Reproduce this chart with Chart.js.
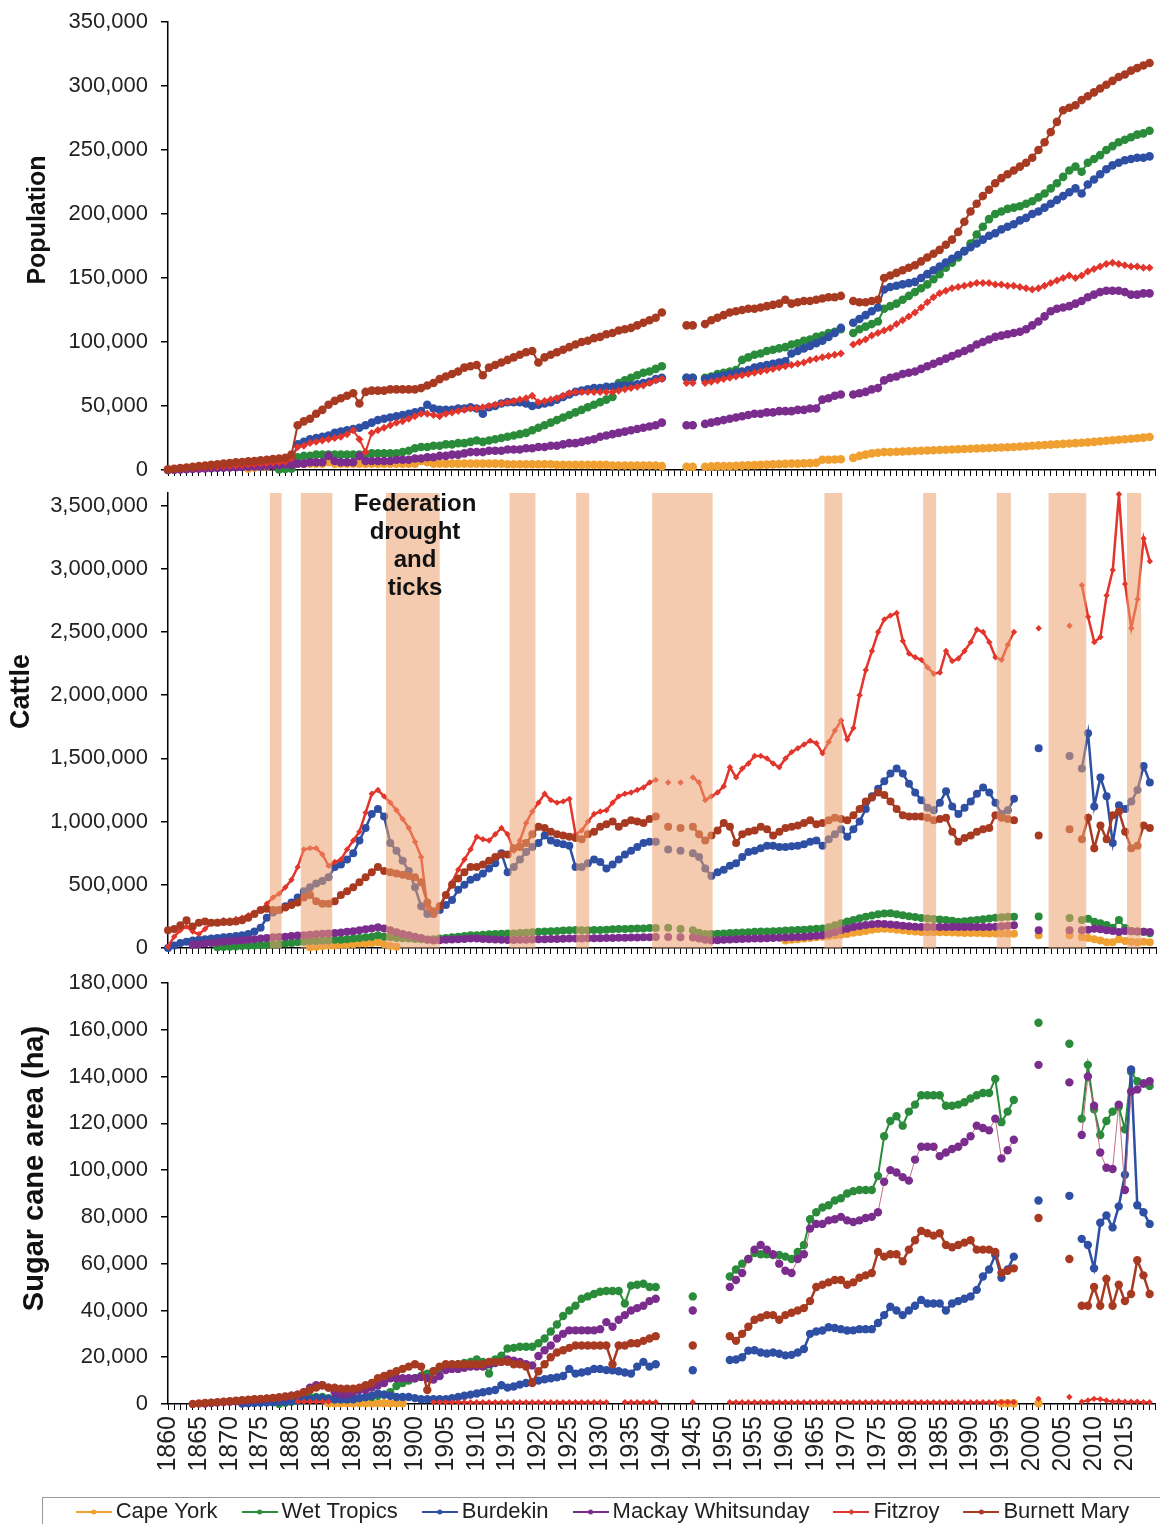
<!DOCTYPE html>
<html>
<head>
<meta charset="utf-8">
<script src="https://cdn.jsdelivr.net/npm/chart.js@4.4.1/dist/chart.umd.min.js"></script>
<style>
html, body { margin: 0; padding: 0; background: #fff; overflow: hidden; }
body { width: 1160px; height: 1524px; position: relative; }
canvas { position: absolute; left: 0; }
</style>
</head>
<body>
<canvas id="pop" width="1160" height="485" style="top:0px"></canvas>
<canvas id="cattle" width="1160" height="483" style="top:480px"></canvas>
<canvas id="sugar" width="1160" height="575" style="top:958px"></canvas>
<script>
// one value per year, 1860 to 2019 (thousands)
const years = Array.from({length: 160}, (_, i) => 1860 + i);
const regions = ['Cape York', 'Wet Tropics', 'Burdekin', 'Mackay Whitsunday', 'Fitzroy', 'Burnett Mary'];
const colours = ['#f0a030', '#2a8c3a', '#2e4fa3', '#7b2d8e', '#e2352b', '#a83a22'];

// drought periods shaded in the cattle panel (start / end year)
const droughtStart = [1876.5, 1881.5, 1895.3, 1915.3, 1926.1, 1938.4, 1966.3, 1982.3, 1994.2, 2002.6, 2015.3];
const droughtEnd   = [1878.4, 1886.6, 1904.0, 1919.5, 1928.2, 1948.2, 1969.2, 1984.4, 1996.5, 2008.7, 2017.6];
const noteYear = 1900;
const noteLines = ['Federation', 'drought', 'and', 'ticks'];

// ---- Population (thousands) ----
const popCapeYork = [
  null,null,null,null,null,null,null,null,null,null,
  null,null,null,1,2,3,3,4,4,4,
  5,5,5,5,5,5,6,5,5,5,
  5,5,5,5,5,5,5,5,5,5,
  5,7,6,5,5,5,5,5,5,5,
  5,5,5,5,5,4.5,4.5,4.5,4.5,4.5,
  4.5,4.5,4.5,4,4,4,4,4,4,4,
  4,4,3.5,3.5,3.5,3.5,3.5,3.5,3.5,3.5,
  3,null,null,null,2.5,2.5,null,2.5,2.8,3,
  3,3,3.2,3.4,3.6,3.8,4,4.2,4.4,4.6,
  4.8,5,5,5.2,5.4,5.6,8,8,8.2,8.4,
  null,9.5,11,12,13,13.5,14,14,14.2,14.4,
  14.6,14.8,15,15.2,15.4,15.6,15.8,16,16.2,16.4,
  16.6,16.8,17,17.2,17.4,17.6,17.8,18,18.3,18.6,
  18.9,19.2,19.5,19.8,20.1,20.4,20.7,21,21.3,21.6,
  22,22.4,22.8,23.2,23.6,24,24.4,24.8,25.3,25.8
];
const popWetTropics = [
  null,null,null,null,null,null,null,null,null,null,
  null,null,null,null,null,null,null,null,0.5,0.8,
  1,10,11,11,12,12,12,12,12,12,
  12,12,12,13,13,13,13,13,14,15,
  17,18,18,19,19,20,20,21,21,22,
  23,22,23,24,25,26,27,28,29,31,
  33,35,37,39,41,43,45,47,49,51,
  53,55,57,68,70,72,74,76,77,79,
  81,null,null,null,72,72,null,72,73,75,
  76,77,78,86,88,90,91,93,94,95,
  96,98,99,101,102,104,105,107,108,110,
  null,107,110,112,114,116,126,128,130,133,
  136,139,142,145,149,153,158,162,166,171,
  177,184,190,196,200,202,204,205,206,208,
  210,213,216,220,224,229,234,237,233,240,
  243,246,250,253,256,258,260,262,263,265
];
const popBurdekin = [
  0,0.3,0.6,1,1.3,1.6,2,2.3,2.6,3,
  3.3,3.6,4,4.3,4.6,5,5.3,5.6,6,6.3,
  8,20,22,24,25,26,27,29,30,31,
  32,33,35,37,39,40,41,42,43,44,
  45,46,51,48,47,47,47,48,48,49,
  48,44,49,50,52,53,53,53,52,50,
  51,52,53,55,57,59,61,62,63,64,
  64,65,65,66,66,66,67,68,69,71,
  72,null,null,null,72,72,null,71,72,73,
  74,75,76,77,78,80,81,82,83,84,
  85,91,93,95,97,99,101,104,107,111,
  null,115,118,121,124,127,141,143,144,145,
  146,147,150,153,156,159,162,165,168,171,
  174,177,180,183,185,188,190,192,195,197,
  200,202,205,208,211,214,217,220,216,223,
  227,231,235,238,240,242,243,244,244,245
];
const popMackay = [
  0,0.2,0.4,0.6,0.8,1,1.2,1.4,1.6,1.8,
  2,2.2,2.4,2.6,2.8,3,3.3,3.6,4,4.5,
  4,5,5,6,6,6,11,7,6,6,
  6,11,7,7,7,7,7,8,8,8,
  9,9,10,10,11,11,12,12,13,14,
  14,14,15,15,15,16,16,16,17,17,
  18,18,19,19,20,21,21,22,23,24,
  26,27,28,29,30,31,32,33,34,35,
  37,null,null,null,35,35,null,36,37,38,
  39,40,41,42,43,44,44,45,45,46,
  46,46,47,47,48,48,55,56,58,59,
  null,59,60,61,63,64,70,72,73,75,
  76,77,79,81,83,85,87,89,91,93,
  95,98,100,102,104,105,106,107,108,110,
  113,116,120,124,126,127,128,130,132,135,
  137,139,140,140,140,139,137,137,138,138
];
const popFitzroy = [
  0.5,0.8,1,1.2,1.5,1.8,2,2.3,2.6,3,
  3.3,3.6,4,4.3,4.6,5,5.3,5.6,6,6.5,
  9,18,19,21,22,23,24,25,26,28,
  31,24,14,29,31,33,35,37,38,40,
  42,44,44,43,42,44,45,46,47,48,
  48,49,50,51,52,53,54,55,56,58,
  53,54,55,56,58,60,61,61,61,61,
  61,61,61,62,63,64,65,66,68,70,
  71,null,null,null,68,68,null,68,69,70,
  71,72,73,74,75,76,77,78,79,80,
  81,82,83,84,86,87,88,89,90,91,
  null,98,100,102,105,107,109,111,114,117,
  120,123,127,131,135,138,140,142,143,144,
  145,146,146,146,145,145,144,144,143,142,
  141,142,144,146,148,150,152,150,152,155,
  157,159,161,162,161,160,159,159,158,158
];
const popBurnettMary = [
  0.5,1,1.5,2,2.5,3,3.5,4,4.5,5,
  5.5,6,6.3,6.8,7,7.5,8,8.5,9,9.5,
  12,35,38,40,44,47,51,54,56,58,
  60,52,61,62,62,62,63,63,63,63,
  63,64,66,68,71,73,75,77,80,81,
  82,74,80,82,84,86,88,90,92,93,
  84,88,90,92,94,96,98,100,101,103,
  104,106,107,109,110,111,113,115,117,119,
  123,null,null,null,113,113,null,114,117,119,
  121,123,124,125,126,126,127,128,129,130,
  133,130,131,132,132,133,134,135,135,136,
  null,132,131,131,132,133,150,152,154,156,
  158,160,163,166,169,172,176,180,186,194,
  202,208,214,219,224,228,231,234,237,240,
  244,250,256,264,272,281,283,285,289,292,
  295,298,301,304,307,309,312,314,316,318
];

// ---- Cattle (thousands) ----
const catCapeYork = [
  null,null,null,null,null,null,null,null,null,null,
  null,null,null,null,null,null,null,null,null,null,
  null,null,null,5,10,15,20,20,25,25,
  30,35,35,40,45,30,15,10,null,null,
  null,null,null,null,null,null,null,null,null,null,
  null,null,null,null,null,null,null,null,null,null,
  null,null,null,null,null,null,null,null,null,null,
  null,null,null,null,null,null,null,null,null,null,
  null,null,null,null,null,null,null,null,null,null,
  null,null,null,null,null,null,null,null,null,null,
  60,65,70,75,80,85,90,95,100,105,
  110,120,127,135,145,150,153,150,145,140,
  135,130,127,125,125,125,125,122,120,118,
  118,118,116,115,115,114,113,113,null,null,
  null,100,null,null,null,null,100,null,85,80,
  70,60,45,45,70,55,50,45,50,45
];
const catWetTropics = [
  null,null,null,null,null,null,null,null,5,8,
  10,12,15,18,20,22,25,28,30,35,
  40,45,50,55,55,60,60,65,65,70,
  75,80,85,90,100,90,85,80,78,75,
  72,70,68,70,75,80,85,90,95,100,
  100,105,108,110,112,115,115,118,120,125,
  128,130,132,135,138,140,142,140,140,142,
  142,145,148,150,150,152,155,155,158,158,
  null,160,null,150,null,140,120,110,110,112,
  115,118,120,122,125,128,130,130,132,135,
  138,140,142,145,148,152,155,165,180,195,
  210,222,235,248,258,268,273,275,268,260,
  252,245,238,234,230,226,221,215,208,212,
  218,222,228,234,240,244,247,247,null,null,
  null,250,null,null,null,null,237,null,221,232,
  208,195,181,160,222,158,135,130,128,116
];
const catBurdekin = [
  0,20,40,50,60,65,70,75,80,85,
  90,95,100,110,130,160,240,280,300,330,
  360,400,450,480,510,530,560,640,660,700,
  750,850,950,1060,1100,1040,830,770,690,610,
  480,330,270,270,300,340,380,460,500,540,
  560,590,630,670,750,600,640,700,760,800,
  830,890,850,830,820,810,640,640,670,700,
  680,630,660,700,740,770,800,830,840,840,
  null,780,null,770,null,750,720,630,570,600,
  620,650,670,720,760,770,790,810,810,800,
  800,805,810,820,840,850,810,860,900,940,
  880,940,1000,1100,1200,1260,1320,1380,1420,1380,
  1300,1230,1170,1110,1090,1150,1240,1120,1060,1110,
  1160,1220,1270,1230,1150,1060,1090,1180,null,null,
  null,1580,null,null,null,null,1520,null,1420,1700,
  1120,1350,1200,830,1130,1100,1160,1250,1440,1310
];
const catMackay = [
  null,null,null,null,25,30,35,40,45,50,
  55,58,62,66,70,75,80,85,88,90,
  95,98,100,105,108,112,115,118,122,128,
  132,140,148,155,165,155,140,125,110,100,
  90,80,65,60,62,65,68,70,72,75,
  75,72,70,68,66,63,63,65,66,68,
  70,70,72,72,74,75,75,76,77,78,
  78,80,80,82,82,84,84,85,86,87,
  null,88,null,86,null,84,75,65,60,62,
  65,68,70,72,74,75,76,78,80,82,
  84,86,88,90,92,96,100,110,125,140,
  152,166,175,182,188,192,190,186,182,176,
  172,168,166,166,166,166,166,166,166,166,
  166,166,166,166,168,172,176,180,null,null,
  null,140,null,null,null,null,140,null,140,145,
  153,148,140,135,127,135,133,130,128,127
];
const catFitzroy = [
  10,90,140,170,130,110,150,200,210,220,
  220,230,240,260,280,300,350,400,430,480,
  540,640,780,790,790,740,650,680,700,780,
  850,920,1070,1220,1250,1200,1150,1090,1020,950,
  840,720,320,260,330,420,520,620,700,780,
  880,860,850,900,950,900,770,850,990,1080,
  1150,1220,1170,1150,1160,1180,900,930,1000,1060,
  1080,1090,1150,1200,1220,1230,1250,1270,1310,1330,
  null,1310,null,1310,null,1350,1310,1170,1200,1230,
  1280,1430,1350,1420,1460,1520,1520,1500,1460,1430,
  1500,1550,1580,1610,1640,1620,1540,1630,1720,1800,
  1650,1740,2000,2200,2350,2500,2600,2630,2650,2430,
  2330,2300,2280,2220,2170,2180,2350,2270,2290,2350,
  2420,2520,2500,2420,2300,2280,2400,2500,null,null,
  null,2530,null,null,null,null,2550,null,2870,2620,
  2420,2460,2790,2990,3590,2880,2530,2760,3240,3060
];
const catBurnettMary = [
  140,150,180,220,170,200,210,200,200,205,
  205,210,220,240,270,300,310,300,300,320,
  340,360,400,420,370,350,350,370,420,450,
  480,520,560,600,640,610,600,590,580,570,
  560,520,360,290,330,420,500,550,600,640,
  640,660,690,720,740,740,790,800,830,900,
  960,950,920,900,890,880,870,860,900,920,
  960,980,1000,960,990,1010,1000,990,1020,1040,
  null,960,null,950,null,960,900,850,890,930,
  990,960,830,900,920,930,960,940,890,920,
  950,960,970,990,1010,980,990,1010,1030,1020,
  1010,1050,1100,1160,1190,1230,1210,1160,1100,1050,
  1040,1040,1040,1030,1010,1020,1030,920,840,870,
  890,920,940,950,1050,1030,1020,1010,null,null,
  null,890,null,null,null,null,940,null,860,1030,
  790,970,860,1050,1080,920,790,810,970,950
];

// ---- Sugar cane area (thousand ha) ----
const sugCapeYork = [
  null,null,null,null,null,null,null,null,null,null,
  null,null,null,null,null,null,null,null,null,null,
  null,null,null,null,null,null,0.3,0.3,0.3,0.3,
  0.3,0.3,0.3,0.3,0.3,0.3,0.3,0.3,0.3,null,
  null,null,null,null,null,null,null,null,null,null,
  null,null,null,null,null,null,null,null,null,null,
  null,null,null,null,null,null,null,null,null,null,
  null,null,null,null,null,null,null,null,null,null,
  null,null,null,null,null,null,null,null,null,null,
  null,null,null,null,null,null,null,null,null,null,
  null,null,null,null,null,null,null,null,null,null,
  null,null,null,null,null,null,null,null,null,null,
  null,null,null,null,null,null,null,null,null,null,
  null,null,null,null,null,0.3,0.3,0.3,null,null,
  null,0.3,null,null,null,null,null,null,null,null,
  null,null,null,null,null,null,null,null,null,null
];
const sugWetTropics = [
  null,null,null,null,null,null,null,null,null,null,
  null,null,null,null,null,null,null,null,0,0.5,
  1,1.4,2,3,3,3,2.5,2,2,2,
  2.5,2.5,3,3,3.5,4,5,7.7,9,10,
  11,12,13,14,15,16,16.5,17,17.5,18,
  19,18,13,19,20.6,23.7,24,24.5,24.5,24.5,
  26,28,31,34,37.6,40,42,45,46,47,
  48,48.3,48.3,48.3,43,50.6,51,51.4,50,50,
  null,null,null,null,null,46,null,null,null,null,
  null,54.5,57.5,60,62,64.5,64,64,63.7,63.7,
  63,62,65,68,79,82,84,85,87,88,
  90,91,91.5,91.5,91.5,97.5,114.5,121,123,119,
  125,128,132,132,132,132,127.5,127.5,128,129,
  130.6,132,133,133,139,120.5,125,130,null,null,
  null,163,null,null,null,null,154,null,122,145,
  126,115,121,125,127,117.5,142,138,137,136
];
const sugBurdekin = [
  null,null,null,null,null,null,null,null,null,null,
  null,null,0.2,0.3,0.4,0.5,0.6,0.7,0.8,1,
  1.2,1.5,2,2,2.5,2.5,2,2,2,2,
  2,2.5,3,3.5,4.5,4,3.5,3,3,3,
  2.5,2,2,2,2,2,2.5,3,3.5,4,
  4.5,5,5.5,6,8,7,7.5,8.3,9,9.3,
  10,10.6,11,11.4,12,15,13,13.5,14,15,
  15,14.5,14.4,14,13.5,13,16,18,16,17,
  null,null,null,null,null,14.4,null,null,null,null,
  null,18.8,19,20,22.8,23,22,21.6,22,21.5,
  20.8,21,22,23.5,30,31,31.4,32.8,32.5,32,
  31.4,31.5,32,32,32,34.6,38,41.6,40,38,
  40,42,44.5,43,43,43,40,43,44,45,
  46,48.8,54.5,57.5,63.7,54,57.5,63,null,null,
  null,87,null,null,null,null,89,null,70.6,68,
  58,77.5,80.6,75.5,84.5,98,143,85,82,77
];
const sugMackay = [
  null,null,null,null,null,null,0.2,0.4,0.6,0.8,
  1,1.2,1.4,1.6,1.8,2,2.2,2.5,2.8,3,
  3.5,4,5,7,8,8,7,5,4,4,
  5,6,6,7,8,9,11,11,11,11,
  11,11.5,11,10.5,12,14.5,15,15,15.5,16,
  16,16,17,17.5,18,19,18.5,18,17,16.5,
  20.5,23,25,28,30,31.5,31.5,31.5,31.5,31.5,
  32,35,33,36,38,40,41,42,44,45,
  null,null,null,null,null,40,null,null,null,null,
  null,50,53,56,62,66,68,66,64,60,
  57,56,62,64,75,77,77,78.5,79,80,
  78.5,77.8,78.5,79.5,80,82,95,100,99,97,
  95.5,104.5,110,110,110,106,107.5,109,110,112,
  114.5,119,118,117,122,105,108.5,113,null,null,
  null,145,null,null,null,null,137.5,null,115,140,
  127.5,107.5,101,100.5,128,91.5,133.6,134.5,137,138
];
const sugFitzroy = [
  null,null,null,null,null,null,null,null,null,null,
  null,null,null,null,null,null,null,null,null,null,
  null,1,1,1,1,1,1,null,null,null,
  null,null,null,null,null,null,null,null,null,null,
  null,null,null,0.8,0.8,0.8,0.8,0.8,0.8,0.8,
  0.8,0.8,0.8,0.8,0.8,0.8,0.8,0.8,0.8,0.8,
  0.8,0.8,0.8,0.8,0.8,0.8,0.8,0.8,0.8,0.8,
  0.8,0.8,null,null,0.8,0.8,0.8,0.8,0.8,0.8,
  null,null,null,null,null,0.8,null,null,null,null,
  null,0.8,0.8,0.8,0.8,0.8,0.8,0.8,0.8,0.8,
  0.8,0.8,0.8,0.8,0.8,0.8,0.8,0.8,0.8,0.8,
  0.8,0.8,0.8,0.8,0.8,0.8,0.8,0.8,0.8,0.8,
  0.8,0.8,0.8,0.8,0.8,0.8,0.8,0.8,0.8,0.8,
  0.8,0.8,0.8,0.8,0.8,0.8,0.8,0.8,null,null,
  null,2.2,null,null,null,null,3,null,1,1.5,
  2.2,2,1.5,1,1.2,1,1,1,0.8,0.8
];
const sugBurnettMary = [
  null,null,null,null,0,0.2,0.4,0.6,0.8,1,
  1.2,1.4,1.6,1.8,2,2.2,2.4,2.6,2.8,3.2,
  3.5,4,5,6,7,8,7,7,6.5,6.5,
  6.5,7,8,9,11,12,13,14,15,16,
  17,16,6,14,16,17,17,17,17,17,
  17,17,18,18,18,18,17,17,16,9,
  14,17,20,22,23,24,25,25,25,25,
  25,25,17,25,25,26,26,27,28,29,
  null,null,null,null,null,25,null,null,null,null,
  null,29,27,30,33,36,37,38,38,36,
  38,39,40,41,44,50,51,52,53,53,
  51,52,54,55,56,65,63,64,64,61,
  66,70,74,73,72,73,68,67,68,69,
  70,66,66,66,65,56,57,58,null,null,
  null,79.5,null,null,null,null,62,null,42,42,
  50,42,53.5,42,51,44,47,61.5,55,47
];

const FONT = 'Arial, "Liberation Sans", sans-serif';
Chart.defaults.font.family = FONT;
Chart.defaults.color = '#222';

function series(values) {
  return values.map((v, i) => ({x: years[i], y: v == null ? null : v * 1000}));
}

function makeDatasets(groups, opts) {
  return groups.map((vals, k) => {
    const diamond = k === 4;
    return {
      label: regions[k],
      data: series(vals),
      borderColor: (opts.lineColours && opts.lineColours[k]) || colours[k],
      backgroundColor: colours[k],
      pointBackgroundColor: colours[k],
      pointBorderWidth: 0,
      pointStyle: diamond ? 'rectRot' : 'circle',
      pointRadius: diamond ? opts.diamond : opts.radius,
      pointHoverRadius: diamond ? opts.diamond : opts.radius,
      borderWidth: opts.widths[k],
      order: 6 - k,
      clip: false
    };
  });
}

function yAxis(max, step, top) {
  return {
    min: 0, max: max,
    afterBuildTicks: s => {
      const t = [];
      for (let v = 0; v <= top; v += step) t.push({value: v});
      s.ticks = t;
    },
    afterFit: s => { s.width = 168; s.paddingTop = 0; s.paddingBottom = 0; },
    ticks: {font: {size: 22}, color: '#222', padding: 13, callback: v => v.toLocaleString('en-US')},
    grid: {drawOnChartArea: false, tickLength: 7, color: '#000', lineWidth: 1.5},
    border: {color: '#000', width: 1.5}
  };
}

function xAxis(showLabels, height) {
  return {
    type: 'linear', min: 1860, max: 2020,
    afterFit: s => { s.height = height; s.paddingLeft = 0; s.paddingRight = 0; },
    ticks: {
      stepSize: 1, autoSkip: false, maxTicksLimit: 200, includeBounds: false,
      display: showLabels, maxRotation: 90, minRotation: 90,
      font: {size: 25}, color: '#222', padding: 6,
      callback: v => (v % 5 === 0 && v < 2020) ? String(v) : ''
    },
    grid: {drawOnChartArea: false, tickLength: 6, color: '#000', lineWidth: 1},
    border: {color: '#000', width: 1.5}
  };
}

// little line-with-marker sample for the legend
function legendMarker(colour, diamond) {
  const c = document.createElement('canvas');
  c.width = 36; c.height = 12;
  const g = c.getContext('2d');
  g.strokeStyle = colour; g.lineWidth = 2;
  g.beginPath(); g.moveTo(0, 6); g.lineTo(36, 6); g.stroke();
  g.fillStyle = colour;
  g.beginPath();
  if (diamond) { g.moveTo(18, 3); g.lineTo(21, 6); g.lineTo(18, 9); g.lineTo(15, 6); g.closePath(); }
  else g.arc(18, 6, 2.5, 0, Math.PI * 2);
  g.fill();
  return c;
}
const legendMarkers = colours.map((c, k) => legendMarker(c, k === 4));

// vertical axis title, drawn a little above the middle of the plot as in the figure
const sideTitle = {
  id: 'sideTitle',
  afterDraw(chart, args, opts) {
    const {ctx, chartArea: a} = chart;
    ctx.save();
    ctx.translate(opts.x, (a.top + a.bottom) / 2 - opts.lift);
    ctx.rotate(-Math.PI / 2);
    ctx.font = 'bold ' + opts.size + 'px ' + FONT;
    ctx.fillStyle = '#111';
    ctx.textAlign = 'center';
    ctx.textBaseline = 'middle';
    ctx.fillText(opts.text, 0, 0);
    ctx.restore();
  }
};

const droughtBands = {
  id: 'droughtBands',
  afterDatasetsDraw(chart) {
    const {ctx, chartArea: a, scales: {x}} = chart;
    ctx.save();
    ctx.fillStyle = 'rgba(236,160,110,0.55)';
    droughtStart.forEach((s, i) => {
      const x0 = x.getPixelForValue(s), x1 = x.getPixelForValue(droughtEnd[i]);
      ctx.fillRect(x0, a.top, x1 - x0, a.bottom - a.top);
    });
    ctx.fillStyle = '#111';
    ctx.font = 'bold 24px ' + FONT;
    ctx.textAlign = 'center';
    ctx.textBaseline = 'middle';
    const cx = x.getPixelForValue(noteYear);
    noteLines.forEach((t, i) => ctx.fillText(t, cx, a.top + 11 + i * 28));
    ctx.restore();
  }
};

const legendFrame = {
  id: 'legendFrame',
  afterLayout(chart) {
    chart.legend.left += 26;
    chart.legend.right += 26;
  },
  afterDraw(chart) {
    const {ctx} = chart;
    ctx.save();
    ctx.strokeStyle = '#999';
    ctx.lineWidth = 1;
    ctx.strokeRect(42.5, chart.legend.top + 27.5, 1200, 80);
    ctx.restore();
  }
};

function baseOptions(yOpts, xOpts, padTop, title, legend) {
  return {
    responsive: false,
    animation: false,
    devicePixelRatio: 1,
    layout: {padding: {left: 0, top: padTop, right: 0, bottom: 0}},
    plugins: {legend: legend || {display: false}, tooltip: {enabled: false}, sideTitle: title},
    scales: {x: xOpts, y: yOpts}
  };
}

new Chart(document.getElementById('pop'), {
  type: 'line',
  data: {datasets: makeDatasets(
    [popCapeYork, popWetTropics, popBurdekin, popMackay, popFitzroy, popBurnettMary],
    {radius: 4.3, diamond: 4, widths: [2, 2, 2, 2, 2, 2]})},
  options: baseOptions(yAxis(350000, 50000, 350000), xAxis(false, 15), 22,
    {text: 'Population', x: 38, lift: 26, size: 25}),
  plugins: [sideTitle]
});

new Chart(document.getElementById('cattle'), {
  type: 'line',
  data: {datasets: makeDatasets(
    [catCapeYork, catWetTropics, catBurdekin, catMackay, catFitzroy, catBurnettMary],
    {radius: 4, diamond: 3.2, widths: [2, 2, 2.5, 2, 2.5, 2.5]})},
  options: baseOptions(yAxis(3600000, 500000, 3500000), xAxis(false, 15), 13,
    {text: 'Cattle', x: 22, lift: 29, size: 27}),
  plugins: [droughtBands, sideTitle]
});

new Chart(document.getElementById('sugar'), {
  type: 'line',
  data: {datasets: makeDatasets(
    [sugCapeYork, sugWetTropics, sugBurdekin, sugMackay, sugFitzroy, sugBurnettMary],
    {radius: 4.2, diamond: 3.2, widths: [2, 2, 2.5, 1, 2, 2.5],
     lineColours: [null, null, null, 'rgba(185,95,115,0.9)', null, null]})},
  options: baseOptions(yAxis(180000, 20000, 180000), xAxis(true, 66), 25,
    {text: 'Sugar cane area (ha)', x: 35, lift: 25, size: 29}, {
    display: true,
    position: 'bottom',
    labels: {
      usePointStyle: true, pointStyleWidth: 22, boxHeight: 22,
      font: {size: 22}, color: '#222', padding: 31,
      sort: (a, b) => a.datasetIndex - b.datasetIndex,
      generateLabels: chart => Chart.defaults.plugins.legend.labels.generateLabels(chart)
        .map(l => Object.assign(l, {pointStyle: legendMarkers[l.datasetIndex]}))
    }
  }),
  plugins: [legendFrame, sideTitle]
});
</script>
</body>
</html>
